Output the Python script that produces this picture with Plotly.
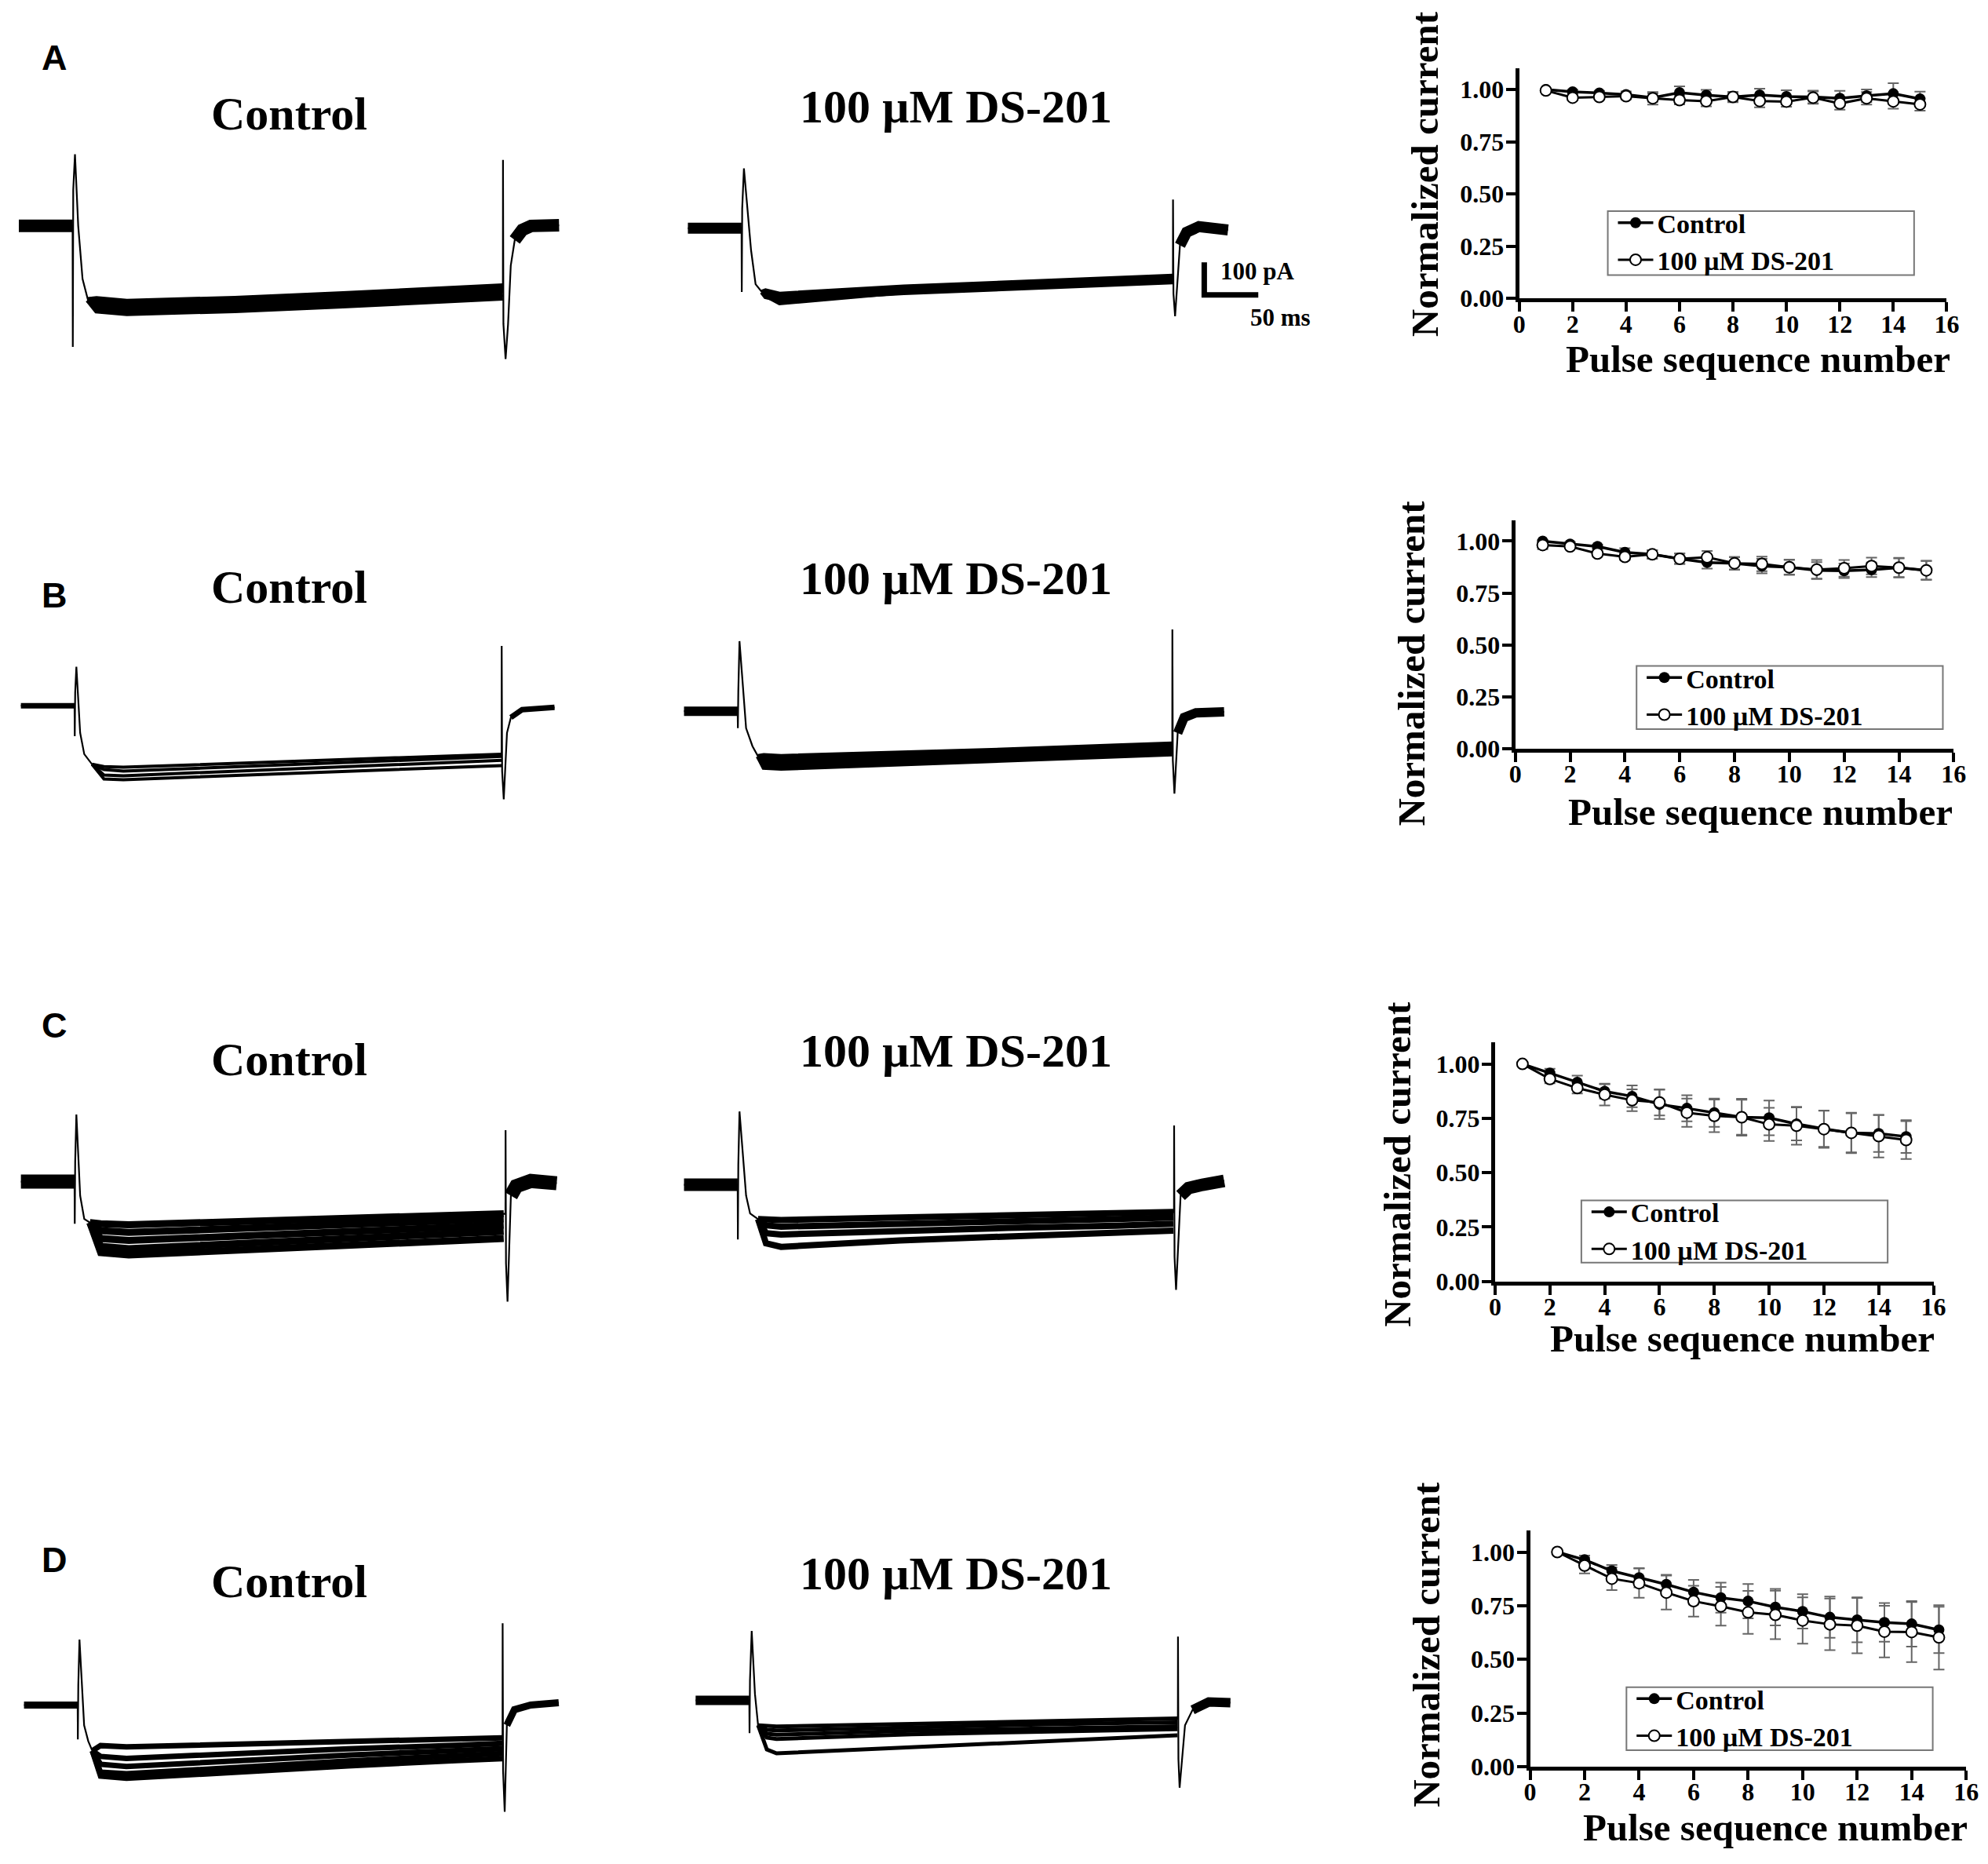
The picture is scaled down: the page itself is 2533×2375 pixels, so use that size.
import plotly.graph_objects as go

W, H = 2533, 2375
SERIF = 'Liberation Serif'
SANS = 'Liberation Sans'

# current traces: time in ms, current in pA relative to holding level
PX_PER_MS = 1.39
PX_PER_PA = 0.42
T_MAX = 560
I_MIN, I_MAX = -450, 300

## A control
A_CTRL_ON_T = [49.8, 50, 50.4, 52, 55, 59, 64]
A_CTRL_ON_I = [0, -370, 110, 219, 0, -162, -226]
A_CTRL_PLAT_T = [72, 100, 200, 300, 400, 448]
A_CTRL_SWEEPS = [[-223, -231, -222, -208, -192, -184],
                 [-235, -243, -234, -220, -204, -196],
                 [-247, -255, -246, -232, -216, -208],
                 [-259, -267, -258, -244, -228, -220]]
A_CTRL_OFF_T = [448, 448.1, 448.5, 450.5, 452.8, 455.3, 459, 466, 474, 500]
A_CTRL_OFF_I = [-202, 202, -300, -407, -300, -121, -43, -12, 0, 2]
## A DS-201
A_DS_ON_T = [49.8, 50, 50.4, 52, 58.6, 62.8, 68.7]
A_DS_ON_I = [0, -195, 60, 183, -67, -171, -195]
A_DS_PLAT_T = [72, 85, 200, 300, 400, 449]
A_DS_SWEEPS = [[-191, -201, -179, -166, -154, -146],
               [-200, -210, -188, -175, -163, -155],
               [-209, -219, -197, -184, -172, -164],
               [-205, -228, -195, -178, -165, -158]]
A_DS_OFF_T = [449, 449.1, 449.5, 451, 453, 455.5, 461.7, 473, 500]
A_DS_OFF_I = [-155, 88, -200, -269, -180, -52, -12, 5, -5]
## B control
B_CTRL_ON_T = [49.8, 50, 50.4, 51.5, 55, 58.8, 66]
B_CTRL_ON_I = [0, -93, 40, 119, -83, -148, -179]
B_CTRL_PLAT_T = [77, 95, 200, 300, 400, 445]
B_CTRL_SWEEPS = [[-186, -188, -176, -165, -153, -148],
                 [-195, -200, -186, -174, -161, -155],
                 [-212, -214, -200, -186, -173, -167],
                 [-224, -226, -213, -201, -188, -183]]
B_CTRL_OFF_T = [445, 445.1, 445.5, 447, 450, 453.6, 464, 494]
B_CTRL_OFF_I = [-148, 183, -200, -286, -83, -36, -12, -5]
## B DS-201
B_DS_ON_T = [49.8, 50, 50.4, 51.5, 57.6, 63.5, 68.7]
B_DS_ON_I = [0, -52, 60, 214, -52, -107, -138]
B_DS_PLAT_T = [74, 90, 200, 300, 400, 452]
B_DS_SWEEPS = [[-135, -138, -128, -118, -106, -100],
               [-145, -148, -137, -127, -115, -108],
               [-155, -158, -146, -136, -124, -116],
               [-165, -168, -155, -145, -133, -124],
               [-172, -175, -162, -150, -140, -131]]
B_DS_OFF_T = [452, 452.1, 452.5, 454, 457, 463, 474, 500]
B_DS_OFF_I = [-116, 250, -150, -252, -67, -19, -5, -2]
## C control
C_CTRL_ON_T = [49.8, 50, 50.4, 51.5, 55, 58.8, 64]
C_CTRL_ON_I = [0, -129, 60, 205, -43, -114, -125]
C_CTRL_PLAT_T = [74, 100, 200, 300, 400, 447]
C_CTRL_SWEEPS = [[-129, -132, -122, -112, -103, -98],
                 [-150, -155, -143, -131, -120, -114],
                 [-174, -180, -166, -153, -139, -133],
                 [-198, -205, -190, -174, -159, -152],
                 [-217, -224, -209, -195, -181, -174]]
C_CTRL_OFF_T = [448.6, 448.7, 449.1, 450.5, 453.6, 458.6, 472, 496]
C_CTRL_OFF_I = [-98, 157, -250, -367, -43, -14, 2, -5]
## C DS-201
C_DS_ON_T = [49.8, 50, 50.4, 51.5, 57.6, 61.3, 68.7]
C_DS_ON_I = [0, -167, 60, 224, -33, -88, -105]
C_DS_PLAT_T = [76, 90, 200, 300, 400, 453]
C_DS_SWEEPS = [[-105, -108, -100, -95, -88, -83],
               [-124, -128, -118, -112, -105, -100],
               [-148, -152, -140, -132, -125, -119],
               [-179, -190, -170, -158, -147, -140]]
C_DS_OFF_T = [453.6, 453.7, 454.1, 455.5, 459.7, 467, 480, 500]
C_DS_OFF_I = [-83, 181, -220, -321, -33, -10, 0, 12]
## D control
D_CTRL_ON_T = [49.8, 50, 50.4, 51.5, 55.8, 59.6, 63.4]
D_CTRL_ON_I = [0, -105, 60, 200, -62, -110, -140]
D_CTRL_PLAT_T = [71, 95, 200, 300, 400, 443]
D_CTRL_SWEEPS = [[-124, -128, -120, -112, -104, -100],
                 [-157, -163, -146, -134, -123, -117],
                 [-181, -188, -168, -153, -139, -133],
                 [-205, -210, -188, -171, -155, -148],
                 [-217, -224, -203, -186, -170, -164]]
D_CTRL_OFF_T = [443, 443.1, 443.5, 445, 447, 454, 469, 495]
D_CTRL_OFF_I = [-100, 250, -200, -326, -62, -14, 0, 7]
## D DS-201
D_DS_ON_T = [49.8, 50, 50.4, 52, 55, 57.9]
D_DS_ON_I = [0, -100, 60, 212, 20, -76]
D_DS_PLAT_T = [66, 75, 200, 300, 400, 446]
D_DS_SWEEPS = [[-79, -80, -72, -65, -58, -55],
               [-90, -92, -82, -75, -69, -67],
               [-102, -105, -93, -87, -82, -79],
               [-114, -118, -104, -97, -91, -88],
               [-150, -162, -143, -127, -113, -107]]
D_DS_OFF_T = [446.4, 446.5, 446.9, 448, 453, 460, 475, 495]
D_DS_OFF_I = [-55, 195, -180, -267, -76, -29, -5, -7]

SCALE_MS = 50
SCALE_PA = 100

# normalized current vs pulse number
PULSES = list(range(1, 16))
A_CTRL = [1.000, 0.989, 0.983, 0.976, 0.961, 0.985, 0.973, 0.964, 0.974, 0.966, 0.964, 0.958, 0.970, 0.980, 0.955]
A_CTRL_ERR = [0.005, 0.01, 0.01, 0.015, 0.02, 0.03, 0.025, 0.02, 0.03, 0.03, 0.03, 0.035, 0.03, 0.05, 0.035]
A_DS = [0.995, 0.961, 0.964, 0.968, 0.958, 0.949, 0.944, 0.964, 0.945, 0.942, 0.961, 0.933, 0.958, 0.943, 0.929]
A_DS_ERR = [0.005, 0.01, 0.01, 0.015, 0.03, 0.02, 0.025, 0.025, 0.03, 0.025, 0.03, 0.03, 0.03, 0.035, 0.03]
B_CTRL = [1.000, 0.986, 0.974, 0.946, 0.936, 0.915, 0.897, 0.893, 0.880, 0.874, 0.859, 0.857, 0.862, 0.872, 0.859]
B_CTRL_ERR = [0.005, 0.01, 0.01, 0.02, 0.02, 0.025, 0.03, 0.03, 0.035, 0.035, 0.04, 0.035, 0.035, 0.045, 0.045]
B_DS = [0.981, 0.974, 0.940, 0.924, 0.936, 0.915, 0.922, 0.893, 0.890, 0.874, 0.863, 0.869, 0.880, 0.872, 0.859]
B_DS_ERR = [0.02, 0.01, 0.015, 0.015, 0.02, 0.025, 0.03, 0.03, 0.035, 0.037, 0.046, 0.04, 0.04, 0.047, 0.046]
C_CTRL = [1.000, 0.958, 0.916, 0.874, 0.851, 0.814, 0.796, 0.776, 0.755, 0.752, 0.724, 0.702, 0.683, 0.680, 0.666]
C_CTRL_ERR = [0.005, 0.02, 0.03, 0.033, 0.05, 0.067, 0.06, 0.065, 0.085, 0.08, 0.076, 0.083, 0.093, 0.085, 0.075]
C_DS = [1.000, 0.931, 0.889, 0.859, 0.833, 0.823, 0.776, 0.761, 0.755, 0.722, 0.716, 0.700, 0.683, 0.668, 0.650]
C_DS_ERR = [0.005, 0.02, 0.025, 0.05, 0.05, 0.06, 0.065, 0.075, 0.08, 0.076, 0.087, 0.086, 0.09, 0.098, 0.087]
D_CTRL = [1.000, 0.964, 0.912, 0.880, 0.849, 0.813, 0.787, 0.771, 0.743, 0.723, 0.696, 0.684, 0.672, 0.665, 0.637]
D_CTRL_ERR = [0.005, 0.02, 0.028, 0.045, 0.045, 0.057, 0.07, 0.08, 0.085, 0.08, 0.096, 0.105, 0.09, 0.106, 0.108]
D_DS = [1.000, 0.937, 0.876, 0.855, 0.811, 0.771, 0.747, 0.719, 0.707, 0.681, 0.663, 0.657, 0.629, 0.627, 0.602]
D_DS_ERR = [0.005, 0.037, 0.053, 0.068, 0.079, 0.072, 0.09, 0.1, 0.113, 0.108, 0.12, 0.129, 0.12, 0.14, 0.15]

LEGEND_NAMES = ['Control', '100 µM DS-201']
TITLE_CTRL = 'Control'
TITLE_DS = '100 µM DS-201'

fig = go.Figure()


def refs(n):
    if n == 1:
        return 'x', 'y', 'xaxis', 'yaxis'
    return 'x%d' % n, 'y%d' % n, 'xaxis%d' % n, 'yaxis%d' % n


def add_trace_panel(n, left, base, on_t, on_i, plat_t, sweeps, off_t, off_i, bw, sw):
    xa, ya, xk, yk = refs(n)
    top = base - I_MAX * PX_PER_PA
    bot = base - I_MIN * PX_PER_PA
    fig.layout[xk] = dict(domain=[left / W, (left + T_MAX * PX_PER_MS) / W], range=[0, T_MAX],
                          visible=False, anchor=ya)
    fig.layout[yk] = dict(domain=[1 - bot / H, 1 - top / H], range=[I_MIN, I_MAX],
                          visible=False, anchor=xa)
    common = dict(mode='lines', xaxis=xa, yaxis=ya, showlegend=False, hoverinfo='skip')
    # holding level before the step (noisy -> thick)
    fig.add_trace(go.Scatter(x=[0, on_t[0]], y=[0, 0], line=dict(color='black', width=bw), **common))
    # capacitive transients, thin
    fig.add_trace(go.Scatter(x=[0] + on_t + plat_t + off_t, y=[0] + on_i + sweeps[0] + off_i,
                             line=dict(color='black', width=2.2), **common))
    for s in sweeps:
        fig.add_trace(go.Scatter(x=[on_t[-1]] + plat_t, y=[on_i[-1]] + s,
                                 line=dict(color='black', width=sw), **common))
    # tail after the step, thick once it is close to holding level
    k = off_i.index(min(off_i)) + 1
    while off_i[k] < -70:
        k += 1
    fig.add_trace(go.Scatter(x=off_t[k:], y=off_i[k:], line=dict(color='black', width=bw), **common))


# n, left px, baseline px, data..., base width, sweep width
add_trace_panel(1, 8, 282, A_CTRL_ON_T, A_CTRL_ON_I, A_CTRL_PLAT_T, A_CTRL_SWEEPS, A_CTRL_OFF_T, A_CTRL_OFF_I, 16, 7)
add_trace_panel(2, 868.5, 285, A_DS_ON_T, A_DS_ON_I, A_DS_PLAT_T, A_DS_SWEEPS, A_DS_OFF_T, A_DS_OFF_I, 14, 6)
add_trace_panel(3, 10.5, 898, B_CTRL_ON_T, B_CTRL_ON_I, B_CTRL_PLAT_T, B_CTRL_SWEEPS, B_CTRL_OFF_T, B_CTRL_OFF_I, 7, 4)
add_trace_panel(4, 863.5, 905, B_DS_ON_T, B_DS_ON_I, B_DS_PLAT_T, B_DS_SWEEPS, B_DS_OFF_T, B_DS_OFF_I, 12, 6)
add_trace_panel(5, 10.5, 1509, C_CTRL_ON_T, C_CTRL_ON_I, C_CTRL_PLAT_T, C_CTRL_SWEEPS, C_CTRL_OFF_T, C_CTRL_OFF_I, 18, 9)
add_trace_panel(6, 863.5, 1513, C_DS_ON_T, C_DS_ON_I, C_DS_PLAT_T, C_DS_SWEEPS, C_DS_OFF_T, C_DS_OFF_I, 16, 8)
add_trace_panel(7, 14.5, 2181, D_CTRL_ON_T, D_CTRL_ON_I, D_CTRL_PLAT_T, D_CTRL_SWEEPS, D_CTRL_OFF_T, D_CTRL_OFF_I, 9, 7)
add_trace_panel(8, 878.5, 2175, D_DS_ON_T, D_DS_ON_I, D_DS_PLAT_T, D_DS_SWEEPS, D_DS_OFF_T, D_DS_OFF_I, 12, 5)

# scale bar in the A / DS-201 panel
bar_t, bar_i = 478, -204
fig.add_trace(go.Scatter(x=[bar_t + SCALE_MS, bar_t, bar_t], y=[bar_i, bar_i, bar_i + SCALE_PA],
                         mode='lines', line=dict(color='black', width=7), xaxis='x2', yaxis='y2',
                         showlegend=False, hoverinfo='skip'))

tickfont = dict(family=SERIF, size=32, color='black', weight='bold')


def add_curve_panel(n, box, ctrl, ctrl_err, ds, ds_err, legend_key, leg_box, ytitle_pos, xtitle_pos):
    xa, ya, xk, yk = refs(n)
    x0, x1, y0, y1 = box
    axis_style = dict(showline=True, linewidth=5, linecolor='black', ticks='outside', ticklen=12,
                      tickwidth=4, tickcolor='black', showgrid=False, zeroline=False, tickfont=tickfont)
    fig.layout[xk] = dict(domain=[x0 / W, x1 / W], range=[0, 16], anchor=ya, tickvals=list(range(0, 17, 2)),
                          ticklabelstandoff=-12, **axis_style)
    fig.layout[yk] = dict(domain=[1 - y1 / H, 1 - y0 / H], range=[0, 1.1], anchor=xa,
                          tickvals=[0, 0.25, 0.5, 0.75, 1.0], tickformat='.2f',
                          ticklabelstandoff=-4, **axis_style)
    for vals, err in [(ctrl, ctrl_err), (ds, ds_err)]:
        fig.add_trace(go.Scatter(x=PULSES, y=vals, mode='markers', xaxis=xa, yaxis=ya,
                                 marker=dict(size=2, color='rgba(0,0,0,0)'),
                                 error_y=dict(type='data', array=err, color='#666666', thickness=2, width=7),
                                 showlegend=False, hoverinfo='skip'))
    fig.add_trace(go.Scatter(x=PULSES, y=ctrl, mode='lines+markers', name=LEGEND_NAMES[0], legend=legend_key,
                             xaxis=xa, yaxis=ya, line=dict(color='black', width=3.5),
                             marker=dict(symbol='circle', size=14, color='black')))
    fig.add_trace(go.Scatter(x=PULSES, y=ds, mode='lines+markers', name=LEGEND_NAMES[1], legend=legend_key,
                             xaxis=xa, yaxis=ya, line=dict(color='black', width=3),
                             marker=dict(symbol='circle', size=14, color='white',
                                         line=dict(color='black', width=2))))
    lx0, lx1, ly0, ly1 = leg_box
    fig.add_shape(type='rect', xref='paper', yref='paper', x0=lx0 / W, x1=lx1 / W,
                  y0=1 - ly1 / H, y1=1 - ly0 / H, line=dict(color='#777777', width=2))
    fig.layout[legend_key] = dict(x=(lx0 + 8) / W, y=1 - (ly0 - 14) / H, xanchor='left', yanchor='top',
                                  bgcolor='rgba(0,0,0,0)', borderwidth=0, tracegroupgap=0, itemwidth=45,
                                  font=dict(family=SERIF, size=34, color='black', weight='bold'))
    fig.add_annotation(x=ytitle_pos[0] / W, y=1 - ytitle_pos[1] / H, xref='paper', yref='paper',
                       xanchor='center', yanchor='middle',
                       text='Normalized current', textangle=-90, showarrow=False,
                       font=dict(family=SERIF, size=49, color='black', weight='bold'))
    fig.add_annotation(x=xtitle_pos[0] / W, y=1 - xtitle_pos[1] / H, xref='paper', yref='paper',
                       xanchor='center', yanchor='middle',
                       text='Pulse sequence number', showarrow=False,
                       font=dict(family=SERIF, size=49, color='black', weight='bold'))


add_curve_panel(9, (1938, 2488, 80, 375), A_CTRL, A_CTRL_ERR, A_DS, A_DS_ERR, 'legend',
                (2052, 2446, 263, 345), (1817, 215), (2245, 453))
add_curve_panel(10, (1933, 2497, 660, 953), B_CTRL, B_CTRL_ERR, B_DS, B_DS_ERR, 'legend2',
                (2089, 2483, 847, 928), (1800, 843), (2248, 1034))
add_curve_panel(11, (1907, 2471, 1330, 1637), C_CTRL, C_CTRL_ERR, C_DS, C_DS_ERR, 'legend3',
                (2018, 2412, 1533, 1613), (1782, 1487), (2225, 1710))
add_curve_panel(12, (1952, 2513, 1957, 2260), D_CTRL, D_CTRL_ERR, D_DS, D_DS_ERR, 'legend4',
                (2076, 2470, 2158, 2239), (1818, 2103), (2267, 2338))


def text(x, y, s, size, family=SERIF, xanchor='center'):
    fig.add_annotation(x=x / W, y=1 - y / H, xref='paper', yref='paper', text=s, showarrow=False,
                       xanchor=xanchor, yanchor='middle',
                       font=dict(family=family, size=size, color='black', weight='bold'))


for letter, ly in [('A', 66), ('B', 756), ('C', 1308), ('D', 1995)]:
    text(54, ly, letter, 45, family=SANS)

for cy, dy in [(138, 129), (746, 735), (1352, 1341), (2022, 2012)]:
    text(356, cy, TITLE_CTRL, 60)
    text(1214, dy, TITLE_DS, 60)

text(1552, 340, '100 pA', 31, xanchor='left')
text(1631, 400, '50 ms', 31)

fig.update_layout(width=W, height=H, margin=dict(l=0, r=0, t=0, b=0),
                  paper_bgcolor='white', plot_bgcolor='rgba(0,0,0,0)', showlegend=True)

fig.write_html("out.html")
